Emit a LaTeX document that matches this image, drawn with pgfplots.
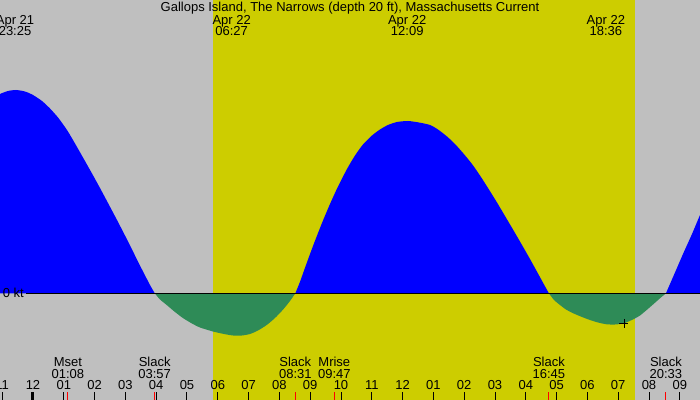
\documentclass[border=0pt]{standalone}
\usepackage{fontspec}
\setmainfont{Liberation Sans}
\usepackage{pgfplots}
\pgfplotsset{compat=1.18}

\definecolor{nightgray}{RGB}{191,191,191}
\definecolor{daygold}{RGB}{205,205,0}
\definecolor{ebbgreen}{RGB}{46,139,87}
\definecolor{floodblue}{RGB}{0,0,255}
\newcommand\lbl{\fontsize{13bp}{15bp}\selectfont}

\begin{document}
\begin{tikzpicture}
\path[use as bounding box, clip] (0,0) rectangle (700bp,400bp);
\begin{axis}[
    at={(0,0)}, anchor=south west,
    scale only axis,
    width=700bp, height=400bp,
    xmin=-1.0714, xmax=21.656,
    ymin=-1.067, ymax=2.933,
    axis background/.style={fill=nightgray},
    axis line style={draw=none},
    axis on top,
    ytick=\empty,
    xtick={-1,0,...,21},
    xticklabels={11,12,01,02,03,04,05,06,07,08,09,10,11,12,01,02,03,04,05,06,07,08,09},
    xtick pos=bottom,
    tick align=inside,
    major tick length=8bp,
    tick style={black, line width=1bp},
    xticklabel style={font=\lbl, anchor=base, yshift=10bp},
    curve/.style={draw=none, smooth, tension=0.4},
]
% daylight (sunrise 05:51, sunset 19:33)
\addplot[draw=none, fill=daygold] coordinates {
    (5.844,-2) (5.844,3) (19.545,3) (19.545,-2)} -- cycle;

% flood, ending Apr 22 03:57
\addplot[curve, fill=floodblue] coordinates {
    (-1.2,1.96) (-1.071,1.993) (-0.812,2.023) (-0.552,2.033)
    (-0.260,2.018) (0,1.983) (0.292,1.923) (0.552,1.848) (0.812,1.758)
    (1.104,1.633) (1.364,1.498) (1.623,1.358) (1.916,1.198) (2.175,1.053)
    (2.435,0.903) (2.727,0.733) (2.987,0.578) (3.247,0.418) (3.506,0.258)
    (3.799,0.083) (3.955,0)} \closedcycle;

% ebb 03:57 - 08:31
\addplot[curve, fill=ebbgreen] coordinates {
    (3.955,0) (4.123,-0.062) (4.341,-0.117) (4.610,-0.187) (4.880,-0.250)
    (5.162,-0.302) (5.422,-0.342) (5.844,-0.382) (6.201,-0.407) (6.494,-0.422)
    (6.786,-0.422) (7.045,-0.407) (7.305,-0.372) (7.588,-0.317) (7.857,-0.247)
    (8.127,-0.160) (8.344,-0.077) (8.517,0)} \closedcycle;

% flood 08:31 - 16:45
\addplot[curve, fill=floodblue] coordinates {
    (8.517,0) (8.669,0.115) (8.831,0.255) (9.091,0.473) (9.383,0.703)
    (9.643,0.893) (9.903,1.068) (10.195,1.243) (10.455,1.378) (10.714,1.488)
    (11.006,1.578) (11.266,1.638) (11.526,1.683) (11.818,1.713) (12.175,1.723)
    (12.532,1.708) (12.890,1.683) (13.149,1.638) (13.442,1.568) (13.701,1.493)
    (13.961,1.403) (14.253,1.293) (14.513,1.178) (14.773,1.053) (15.065,0.908)
    (15.325,0.773) (15.584,0.638) (15.877,0.483) (16.136,0.343) (16.396,0.198)
    (16.591,0.088) (16.750,0)} \closedcycle;

% ebb 16:45 - 20:33
\addplot[curve, fill=ebbgreen] coordinates {
    (16.750,0) (16.916,-0.067) (17.110,-0.117) (17.305,-0.162) (17.542,-0.200)
    (17.825,-0.237) (18.084,-0.267) (18.344,-0.292) (18.627,-0.310) (18.896,-0.312)
    (19.188,-0.300) (19.490,-0.260) (19.708,-0.222) (19.925,-0.167) (20.130,-0.112)
    (20.357,-0.050) (20.550,0)} \closedcycle;

% flood from 20:33
\addplot[curve, fill=floodblue] coordinates {
    (20.550,0) (20.844,0.208) (21.104,0.393) (21.396,0.593) (21.656,0.783)
    (21.981,1.013)} \closedcycle;

% zero line
\addplot[black, line width=1bp] coordinates {(-0.227,0) (21.8,0)};
% now
\addplot[only marks, mark=+, mark size=4.5bp, black, line width=0.8bp]
    coordinates {(19.188,-0.300)};

% midnight and event ticks
\draw[black, line width=3bp] (axis cs:0,-1.067) -- (axis cs:0,-0.987);
\draw[red, line width=1bp] (axis cs:1.133,-1.067) -- (axis cs:1.133,-0.987);
\draw[red, line width=1bp] (axis cs:3.950,-1.067) -- (axis cs:3.950,-0.987);
\draw[red, line width=1bp] (axis cs:8.517,-1.067) -- (axis cs:8.517,-0.987);
\draw[red, line width=1bp] (axis cs:9.783,-1.067) -- (axis cs:9.783,-0.987);
\draw[red, line width=1bp] (axis cs:16.750,-1.067) -- (axis cs:16.750,-0.987);
\draw[red, line width=1bp] (axis cs:20.550,-1.067) -- (axis cs:20.550,-0.987);

\node[font=\lbl, anchor=base west, inner sep=0pt] at (axis cs:-0.984,-0.044) {0 kt};

% title and max current times
\node[font=\lbl, anchor=base] at (axis cs:10.292,2.813)
    {Gallops Island, The Narrows (depth 20 ft), Massachusetts Current};
\node[font=\lbl, anchor=base] at (axis cs:-0.583,2.683) {Apr 21};
\node[font=\lbl, anchor=base] at (axis cs:-0.583,2.573) {23:25};
\node[font=\lbl, anchor=base] at (axis cs:6.450,2.683) {Apr 22};
\node[font=\lbl, anchor=base] at (axis cs:6.450,2.573) {06:27};
\node[font=\lbl, anchor=base] at (axis cs:12.150,2.683) {Apr 22};
\node[font=\lbl, anchor=base] at (axis cs:12.150,2.573) {12:09};
\node[font=\lbl, anchor=base] at (axis cs:18.600,2.683) {Apr 22};
\node[font=\lbl, anchor=base] at (axis cs:18.600,2.573) {18:36};

% slack and moon events
\node[font=\lbl, anchor=base] at (axis cs:1.133,-0.734) {Mset};
\node[font=\lbl, anchor=base] at (axis cs:1.133,-0.850) {01:08};
\node[font=\lbl, anchor=base] at (axis cs:3.950,-0.734) {Slack};
\node[font=\lbl, anchor=base] at (axis cs:3.950,-0.850) {03:57};
\node[font=\lbl, anchor=base] at (axis cs:8.517,-0.734) {Slack};
\node[font=\lbl, anchor=base] at (axis cs:8.517,-0.850) {08:31};
\node[font=\lbl, anchor=base] at (axis cs:9.783,-0.734) {Mrise};
\node[font=\lbl, anchor=base] at (axis cs:9.783,-0.850) {09:47};
\node[font=\lbl, anchor=base] at (axis cs:16.750,-0.734) {Slack};
\node[font=\lbl, anchor=base] at (axis cs:16.750,-0.850) {16:45};
\node[font=\lbl, anchor=base] at (axis cs:20.550,-0.734) {Slack};
\node[font=\lbl, anchor=base] at (axis cs:20.550,-0.850) {20:33};
\end{axis}
\end{tikzpicture}
\end{document}
